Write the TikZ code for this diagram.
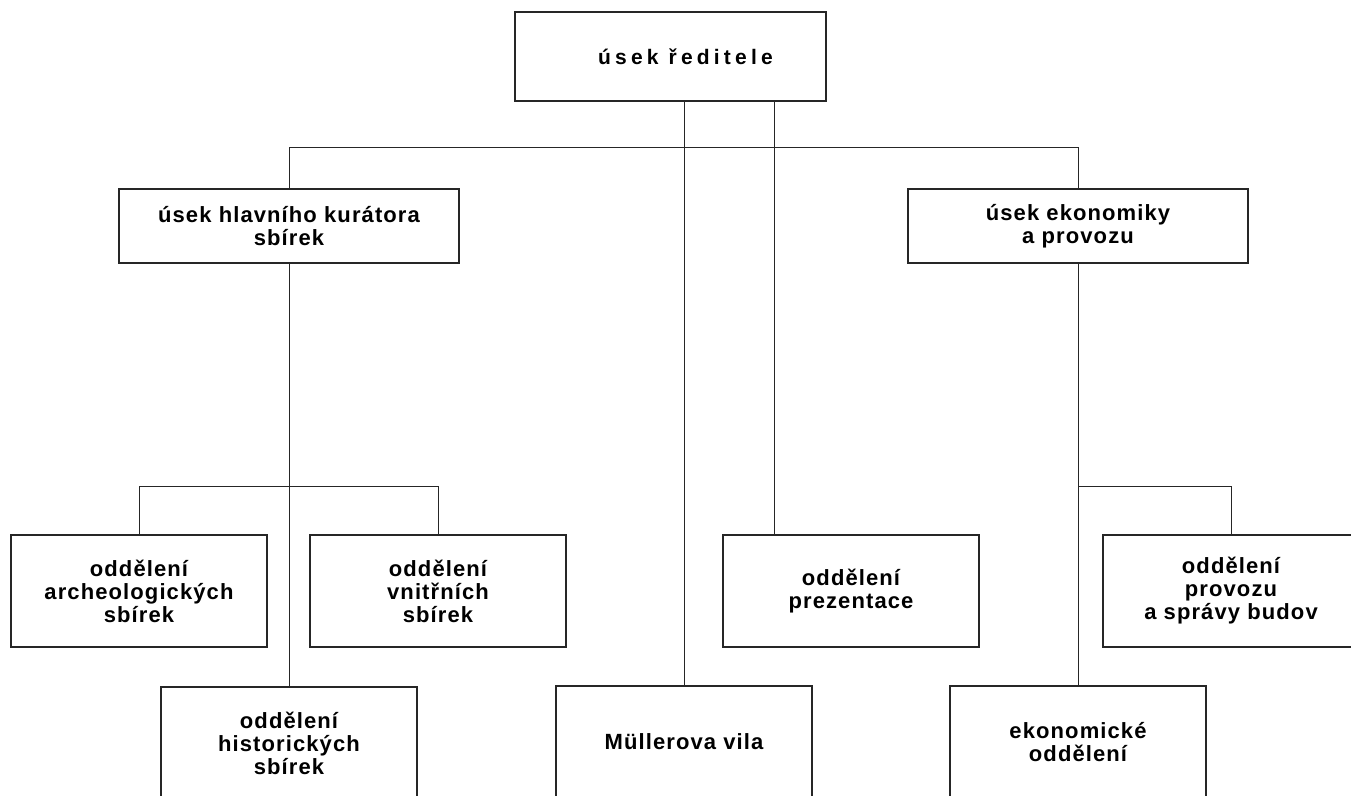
\documentclass[tikz,border=0pt]{standalone}
\usepackage{fontspec}
\setmainfont{Liberation Sans}[LetterSpace=5]
\newfontfamily\topfont{Liberation Sans}[LetterSpace=20]
\begin{document}
\begin{tikzpicture}[x=1pt,y=-1pt,
  box/.style={draw=black!85, line width=1.2pt, minimum width=256pt, minimum height=112pt,
    inner sep=0pt, align=center, font=\bfseries\fontsize{22}{23}\selectfont},
  midbox/.style={box, minimum width=340pt, minimum height=74pt},
  topbox/.style={box, minimum width=311pt, minimum height=89pt, font=\topfont\bfseries\fontsize{21}{23}\selectfont},
  conn/.style={draw=black!85, line width=1pt}]
\useasboundingbox (0,0) rectangle (1351,795);
\clip (0,0) rectangle (1351,795);
\node[topbox] (top) at (670.5,56.5) {\hspace*{30pt}úsek ředitele};
\node[midbox] (lmid) at (289,226) {úsek hlavního kurátora\\sbírek};
\node[midbox] (rmid) at (1078,226) {úsek ekonomiky\\a provozu};
\node[box] (arch) at (139,591) {oddělení\\archeologických\\sbírek};
\node[box] (vnit) at (438,591) {oddělení\\vnitřních\\sbírek};
\node[box] (hist) at (289,743) {oddělení\\historických\\sbírek};
\node[box] (mull) at (684,742) {Müllerova vila};
\node[box] (prez) at (851,591) {oddělení\\prezentace};
\node[box] (prov) at (1231,591) {oddělení\\provozu\\a správy budov};
\node[box] (ekon) at (1078,742) {ekonomické\\oddělení};
\coordinate (pz) at (774,0);
\coordinate (lb) at (0,486);
\draw[conn] (top.south -| mull.north) -- (mull.north);
\draw[conn] (top.south -| pz) -- (prez.north -| pz);
\draw[conn] (lmid.north) -- ++(0,-41) -| (rmid.north);
\draw[conn] (lmid.south) -- (hist.north);
\draw[conn] (arch.north) |- (lb -| vnit.north) -- (vnit.north);
\draw[conn] (rmid.south) -- (ekon.north);
\draw[conn] (prov.north) |- (lb -| ekon.north);
\end{tikzpicture}
\end{document}
